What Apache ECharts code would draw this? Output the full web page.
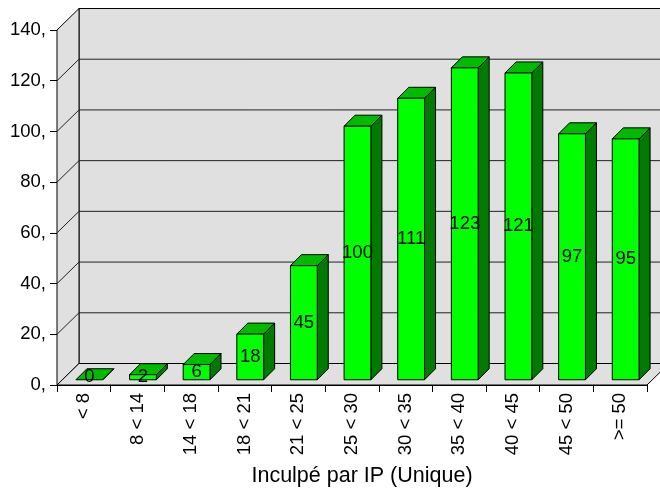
<!DOCTYPE html>
<html>
<head>
<meta charset="utf-8">
<script src="https://cdn.jsdelivr.net/npm/echarts@6/dist/echarts.min.js"></script>
<style>html,body{margin:0;padding:0;background:#fff}#c{width:660px;height:491px}</style>
</head>
<body>
<div id="c"></div>
<script>
const categories = ['< 8', '8 < 14', '14 < 18', '18 < 21', '21 < 25', '25 < 30', '30 < 35', '35 < 40', '40 < 45', '45 < 50', '>= 50'];
const values = [0, 2, 6, 18, 45, 100, 111, 123, 121, 97, 95];
const yMin = 0, yMax = 140, yStep = 20;
const xTitle = 'Inculpé par IP (Unique)';

const FONT = '"Liberation Sans", Arial, sans-serif';
const D = [22, -21.5];      // depth of the chart box
const B = [11, -11];        // depth of a bar
const F = [(D[0] - B[0]) / 2, (D[1] - B[1]) / 2]; // front offset of bar
const WALL = '#E0E0E0';

const chart = echarts.init(document.getElementById('c'), null, {renderer: 'canvas'});

function wallItem(params, api) {
  const n = categories.length;
  const children = [];
  const p0 = api.coord([0, yMin]);
  const half = api.size([1, 0])[0] / 2;
  const xl = p0[0] - half;
  const xr = api.coord([n - 1, yMin])[0] + half;
  const yb = p0[1];
  const yt = api.coord([0, yMax])[1];
  const st = {stroke: '#000', lineWidth: 1};
  children.push({type: 'polygon', shape: {points: [[xl + D[0], yt + D[1]], [xr + D[0] + 40, yt + D[1]], [xr + D[0] + 40, yb + D[1]], [xl + D[0], yb + D[1]]]}, style: Object.assign({fill: WALL}, st)});
  children.push({type: 'polygon', shape: {points: [[xl, yt], [xl + D[0], yt + D[1]], [xl + D[0], yb + D[1]], [xl, yb]]}, style: Object.assign({fill: WALL}, st)});
  children.push({type: 'polygon', shape: {points: [[xl, yb], [xr, yb], [xr + D[0], yb + D[1]], [xl + D[0], yb + D[1]]]}, style: Object.assign({fill: WALL}, st)});
  for (let v = yMin + yStep; v < yMax; v += yStep) {
    const y = api.coord([0, v])[1];
    children.push({type: 'polyline', shape: {points: [[xl, y], [xl + D[0], y + D[1]], [xr + D[0] + 40, y + D[1]]]}, style: {stroke: '#222', lineWidth: 1, fill: null}});
  }
  return {type: 'group', children: children};
}

function barItem(params, api) {
  const idx = api.value(0), v = api.value(1);
  const base = api.coord([idx, 0]);
  const top = api.coord([idx, v]);
  const bw = api.size([1, 0])[0] * 0.5;
  const x0 = base[0] - bw / 2 + F[0], x1 = x0 + bw;
  const yb = base[1] + F[1], yt = top[1] + F[1];
  const st = {stroke: '#000', lineWidth: 1};
  const ch = [];
  ch.push({type: 'polygon', shape: {points: [[x1, yt], [x1 + B[0], yt + B[1]], [x1 + B[0], yb + B[1]], [x1, yb]]}, style: Object.assign({fill: '#007A00'}, st)});
  ch.push({type: 'polygon', shape: {points: [[x0, yt], [x1, yt], [x1 + B[0], yt + B[1]], [x0 + B[0], yt + B[1]]]}, style: Object.assign({fill: '#00BB00'}, st)});
  if (yb - yt > 0.5) {
    ch.push({type: 'rect', shape: {x: x0, y: yt, width: bw, height: yb - yt}, style: Object.assign({fill: '#00FF00'}, st)});
  }
  ch.push({type: 'text', x: x0 + bw / 2, y: Math.min((yt + yb) / 2, yb - 3), style: {text: String(values[idx]), fill: '#000', font: '18.5px ' + FONT, align: 'center', verticalAlign: 'middle'}});
  return {type: 'group', children: ch};
}

chart.setOption({
  animation: false,
  backgroundColor: '#fff',
  grid: {left: 57, right: 13, top: 30, bottom: 106, containLabel: false},
  xAxis: {
    type: 'category', data: categories, boundaryGap: true,
    axisLine: {show: true, lineStyle: {color: '#000'}},
    axisTick: {show: true, length: 7, lineStyle: {color: '#000'}},
    axisLabel: {rotate: 90, margin: 8, color: '#000', fontSize: 18.5, fontFamily: FONT, interval: 0},
    splitLine: {show: false}
  },
  yAxis: {
    type: 'value', min: yMin, max: yMax, interval: yStep,
    axisLine: {show: true, lineStyle: {color: '#000'}},
    axisTick: {show: true, length: 7, lineStyle: {color: '#000'}},
    axisLabel: {margin: 11, color: '#000', fontSize: 18.5, fontFamily: FONT, formatter: v => v + ','},
    splitLine: {show: false}
  },
  graphic: [{type: 'text', x: 362, y: 476, style: {text: xTitle, fill: '#000', font: '21.5px ' + FONT, align: 'center', verticalAlign: 'middle'}}],
  series: [
    {type: 'custom', clip: false, z: 1, renderItem: wallItem, data: [[0, 0]], silent: true},
    {type: 'custom', clip: false, z: 3, renderItem: barItem, data: values.map((v, i) => [i, v]), silent: true}
  ]
});
</script>
</body>
</html>
